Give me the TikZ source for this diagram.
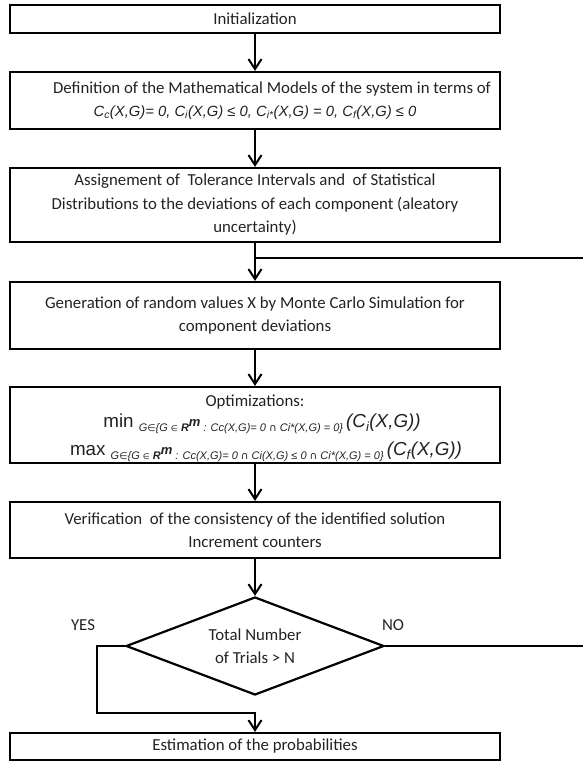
\documentclass[tikz,border=0pt]{standalone}
\usepackage{fontspec}
\setmainfont{Carlito}
\newfontfamily\arialf{Liberation Sans}
\newfontfamily\dejavf{DejaVu Sans}
\usetikzlibrary{arrows.meta,shapes.geometric}
\definecolor{ink}{HTML}{222222}
\begin{document}
\begin{tikzpicture}[x=1pt,y=1pt,
  every node/.style={font=\fontsize{16.8}{23.5}\selectfont, text=ink},
  procbox/.style={draw=black, line width=2.2pt, minimum width=490pt, inner sep=0pt, align=center},
  conn/.style={draw=black, line width=2.1pt},
  arr/.style={conn, -{Straight Barb[length=10pt,width=13pt,line width=2pt]}},
  plain/.style={inner sep=0pt, align=center}]
\useasboundingbox (0,0) rectangle (583,-763);

% boxes
\node[procbox, minimum height=28pt] (init) at (255,-19) {Initialization};
\node[procbox, minimum height=57pt] (def) at (255,-100.5) {\hspace*{34pt}Definition of the Mathematical Models of the system in terms of\\[-1pt]
  {\arialf\itshape\fontsize{14.8}{20}\selectfont C\textsubscript{c}(X,G)= 0, C\textsubscript{i}(X,G) ≤ 0, C\textsubscript{i*}(X,G) = 0, C\textsubscript{f}(X,G) ≤ 0}};
\node[procbox, minimum height=74pt] (assign) at (255,-205) {Assignement of\ \ Tolerance Intervals and\ \ of Statistical\\
  Distributions to the deviations of each component (aleatory\\ uncertainty)};
\node[procbox, minimum height=67pt] (gen) at (255,-315.5) {Generation of random values X by Monte Carlo Simulation for\\ component deviations};
\node[procbox, minimum height=76pt] (opt) at (255,-425) {};
\node[plain] (optt) at (255,-402) {Optimizations:};
\node[plain] (minl) at (262,-424) {\arialf\fontsize{18.8}{22}\selectfont min \raisebox{-4.5pt}{\fontsize{11}{12}\selectfont\itshape G{\dejavf\fontsize{9.5}{9.5}\selectfont ∈}\{G {\dejavf\fontsize{8}{8}\selectfont ∈} {\bfseries R}\raisebox{5.5pt}{\fontsize{13}{13}\selectfont\bfseries m} : Cc(X,G)= 0 {\dejavf\fontsize{10.5}{10.5}\selectfont ∩} Ci*(X,G) = 0\}}\,{\itshape (C\textsubscript{i}(X,G))}};
\node[plain] (maxl) at (266,-452) {\arialf\fontsize{18.8}{22}\selectfont max \raisebox{-4.5pt}{\fontsize{11}{12}\selectfont\itshape G{\dejavf\fontsize{9.5}{9.5}\selectfont ∈}\{G {\dejavf\fontsize{8}{8}\selectfont ∈} {\bfseries R}\raisebox{5.5pt}{\fontsize{13}{13}\selectfont\bfseries m} : Cc(X,G)= 0 {\dejavf\fontsize{10.5}{10.5}\selectfont ∩} Ci(X,G) ≤ 0 {\dejavf\fontsize{10.5}{10.5}\selectfont ∩} Ci*(X,G) = 0\}}\,{\itshape (C\textsubscript{f}(X,G))}};
\node[procbox, minimum height=56pt] (verif) at (255,-530) {Verification\ \ of the consistency of the identified solution\\ Increment counters};
\node[draw=black, line width=2.2pt, diamond, minimum width=258pt, minimum height=98pt, shape aspect=2.63, inner sep=0pt, align=center] (dia) at (255,-646) {Total Number\\ of Trials > N};
\node[procbox, minimum height=27pt] (est) at (255,-746.5) {Estimation of the probabilities};

% labels
\node[plain] (yes) at (83,-625) {YES};
\node[plain] (no) at (393,-625) {NO};

% coordinates
\coordinate (fb) at (583,-258);
\coordinate (fbj) at (255,-258);
\coordinate (ne) at (583,-646);
\coordinate (yc) at (97,-713);

% connectors
\draw[arr] (init.south) -- (def.north);
\draw[arr] (def.south) -- (assign.north);
\draw[arr] (assign.south) -- (gen.north);
\draw[conn] (fb) -- (fbj);
\draw[arr] (gen.south) -- (opt.north);
\draw[arr] (opt.south) -- (verif.north);
\draw[arr] (verif.south) -- (dia.north);
\draw[conn] (dia.east) -- (ne);
\draw[arr] (dia.west) -| (yc) -| (est.north);
\end{tikzpicture}
\end{document}
